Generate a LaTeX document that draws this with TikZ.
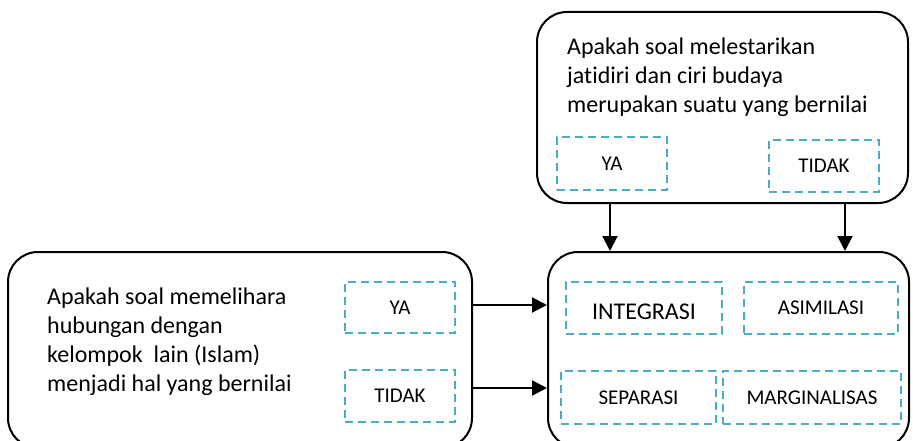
\documentclass[tikz,border=0pt]{standalone}
\usepackage{fontspec}
\setmainfont[Ligatures=NoCommon]{Carlito}
\usetikzlibrary{arrows.meta}
\definecolor{aqua}{RGB}{75,172,198}
\tikzset{
  bigbox/.style={draw=black, line width=2pt, rounded corners=30pt, inner sep=0pt},
  dbox/.style={draw=aqua, line width=2pt, dash pattern=on 8pt off 5pt, inner sep=0pt, font=\fontsize{21}{25}\selectfont},
  qtext/.style={anchor=base west, align=left, inner sep=0pt, font=\fontsize{24}{29}\selectfont},
  arr/.style={line width=2pt, -{Triangle[length=15pt,width=15pt]}}
}
\begin{document}
\begin{tikzpicture}[x=1pt,y=-1pt]
\useasboundingbox (0,0) rectangle (913,441);
% big boxes
\node[bigbox, minimum width=371pt, minimum height=191pt] (top) at (722.5,107.5) {};
\node[bigbox, minimum width=464pt, minimum height=196pt] (lb) at (240,350) {};
\node[bigbox, minimum width=361pt, minimum height=196pt] (rb) at (728.5,350) {};
% texts (anchored at the baseline of the last line)
\node[qtext] (tq) at (567,113) {Apakah soal melestarikan\\jatidiri dan ciri budaya\\merupakan suatu yang bernilai};
\node[qtext] (lq) at (47,391) {Apakah soal memelihara\\hubungan dengan\\kelompok\ \ lain (Islam)\\menjadi hal yang bernilai};
% top labels
\node[dbox, minimum width=110pt, minimum height=53pt] (tya) at (612,163.5) {YA};
\node[dbox, minimum width=110pt, minimum height=52pt] (ttidak) at (824,166) {TIDAK};
% left labels
\node[dbox, minimum width=110pt, minimum height=51pt] (lya) at (400,307.5) {YA};
\node[dbox, minimum width=110pt, minimum height=52pt] (ltidak) at (400,396) {TIDAK};
% right labels
\node[dbox, minimum width=156pt, minimum height=52pt] (integ) at (644,308) {};
\node[anchor=center, inner sep=0pt, font=\fontsize{24}{29}\selectfont] (integt) at (644,312) {INTEGRASI};
\node[dbox, minimum width=154pt, minimum height=52pt] (asim) at (821,308) {ASIMILASI};
\node[dbox, minimum width=155pt, minimum height=53pt] (sep) at (638.5,397.5) {SEPARASI};
\node[dbox, minimum width=178pt, minimum height=53pt] (marg) at (812,397.5) {MARGINALISAS};
% connector guide coordinates
\coordinate (ax1) at (610,0);
\coordinate (ax2) at (845,0);
\coordinate (ay1) at (0,305);
\coordinate (ay2) at (0,388);
% arrows
\draw[arr] (top.south -| ax1) -- (rb.north -| ax1);
\draw[arr] (top.south -| ax2) -- (rb.north -| ax2);
\draw[arr] (lb.east |- ay1) -- (rb.west |- ay1);
\draw[arr] (lb.east |- ay2) -- (rb.west |- ay2);
\end{tikzpicture}
\end{document}
